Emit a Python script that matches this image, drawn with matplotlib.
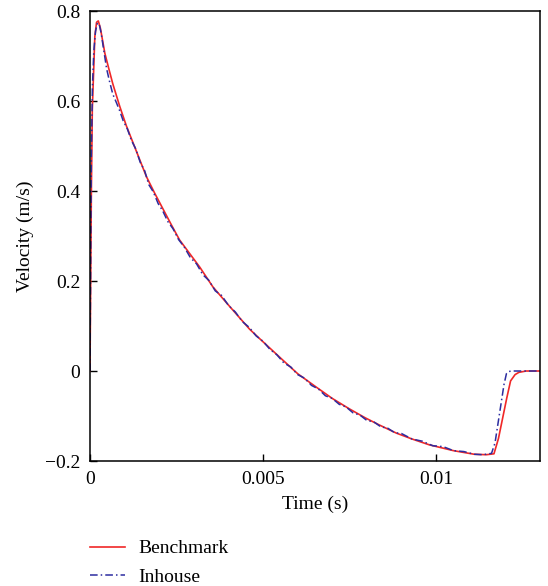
import matplotlib
matplotlib.use("Agg")
import matplotlib.pyplot as plt

# benchmark curve
bench_t = [0, 0.00002, 0.00004, 0.000067, 0.0001, 0.00014, 0.00019, 0.00024,
           0.0003, 0.00043, 0.00055, 0.00066, 0.00086, 0.00105, 0.00125,
           0.00145, 0.00163, 0.00187, 0.00211, 0.00235, 0.00259, 0.00287,
           0.00317, 0.00355, 0.00395, 0.00428, 0.00461, 0.0049, 0.00556,
           0.006, 0.00654, 0.007, 0.00749, 0.00795, 0.00836, 0.00885, 0.0093,
           0.0098, 0.0105, 0.0111, 0.01145, 0.01167, 0.0118, 0.01192, 0.01204,
           0.01215, 0.01228, 0.01239, 0.0126, 0.013]
bench_v = [0, 0.2, 0.4, 0.58, 0.654, 0.743, 0.775, 0.778,
           0.762, 0.706, 0.67, 0.638, 0.588, 0.545, 0.506,
           0.467, 0.432, 0.395, 0.36, 0.325, 0.291, 0.262,
           0.231, 0.187, 0.151, 0.122, 0.093, 0.072, 0.025,
           -0.006, -0.036, -0.061, -0.084, -0.104, -0.12, -0.138, -0.151,
           -0.164, -0.177, -0.185, -0.186, -0.184, -0.15, -0.105, -0.06,
           -0.022, -0.008, -0.003, 0.0, 0.0]

# in-house solver curve
inhouse_t = [0, 0.00002, 0.00004, 0.00007, 0.00011, 0.00016, 0.00021, 0.00026,
             0.00032, 0.0004, 0.00048, 0.00056, 0.00066, 0.00076, 0.00086,
             0.00096, 0.00108, 0.0012, 0.00132, 0.00145, 0.00158, 0.0017,
             0.00183, 0.00197, 0.0021, 0.00225, 0.0024, 0.00256, 0.00272,
             0.0029, 0.00308, 0.00326, 0.00344, 0.00362, 0.0038, 0.004,
             0.0042, 0.0044, 0.0046, 0.0048, 0.005, 0.0052, 0.0054, 0.0056,
             0.0058, 0.006, 0.0062, 0.0064, 0.0066, 0.0068, 0.007, 0.0072,
             0.0074, 0.0076, 0.0078, 0.008, 0.0082, 0.0084, 0.0086, 0.0088,
             0.009, 0.0093, 0.0096, 0.0099, 0.0102, 0.0105, 0.0108, 0.0111,
             0.01135, 0.0116, 0.0117, 0.0118, 0.0119, 0.01196, 0.01203,
             0.0121, 0.0122, 0.013]
inhouse_v = [0, 0.26, 0.48, 0.63, 0.71, 0.755, 0.772, 0.773,
             0.752, 0.712, 0.672, 0.645, 0.615, 0.597, 0.578,
             0.556, 0.538, 0.512, 0.494, 0.464, 0.445, 0.414,
             0.398, 0.372, 0.356, 0.332, 0.316, 0.292, 0.276,
             0.252, 0.238, 0.214, 0.201, 0.178, 0.168, 0.146,
             0.131, 0.11, 0.097, 0.078, 0.066, 0.048, 0.036, 0.018,
             0.009, -0.008, -0.016, -0.032, -0.04, -0.055, -0.061, -0.074,
             -0.08, -0.093, -0.098, -0.11, -0.113, -0.124, -0.127, -0.137,
             -0.139, -0.151, -0.156, -0.166, -0.168, -0.177, -0.179, -0.185,
             -0.186, -0.183, -0.16, -0.11, -0.06, -0.03, -0.006,
             -0.001, 0.0, 0.0]

xticks = [0, 0.005, 0.01]
xtick_labels = ["0", "0.005", "0.01"]
yticks = [-0.2, 0, 0.2, 0.4, 0.6, 0.8]
ytick_labels = ["\u22120.2", "0", "0.2", "0.4", "0.6", "0.8"]

plt.rcParams["font.family"] = ["Liberation Serif", "DejaVu Serif"]
plt.rcParams["font.size"] = 14

fig = plt.figure(figsize=(5.48, 5.86), dpi=100)
ax = fig.add_axes([0.1642, 0.2133, 0.8212, 0.7679])

ax.plot(bench_t, bench_v, color="#f02828", lw=1.2, label="Benchmark")
ax.plot(inhouse_t, inhouse_v, color="#2c2ca0", lw=1.1,
        linestyle=(0, (5, 2, 1, 2)), label="Inhouse")

ax.set_xlim(0, 0.013)
ax.set_ylim(-0.2, 0.8)
ax.set_xticks(xticks)
ax.set_xticklabels(xtick_labels)
ax.set_yticks(yticks)
ax.set_yticklabels(ytick_labels)
ax.tick_params(direction="in", length=5, width=1, pad=7)
for s in ax.spines.values():
    s.set_linewidth(1.1)

ax.set_xlabel("Time (s)", labelpad=6)
ax.set_ylabel("Velocity (m/s)", labelpad=8)

fig.legend(loc="upper left", bbox_to_anchor=(0.15, 0.092), frameon=False,
           handlelength=1.8, handletextpad=0.7, labelspacing=0.55,
           borderaxespad=0)

fig.savefig("out.png", dpi=100)
